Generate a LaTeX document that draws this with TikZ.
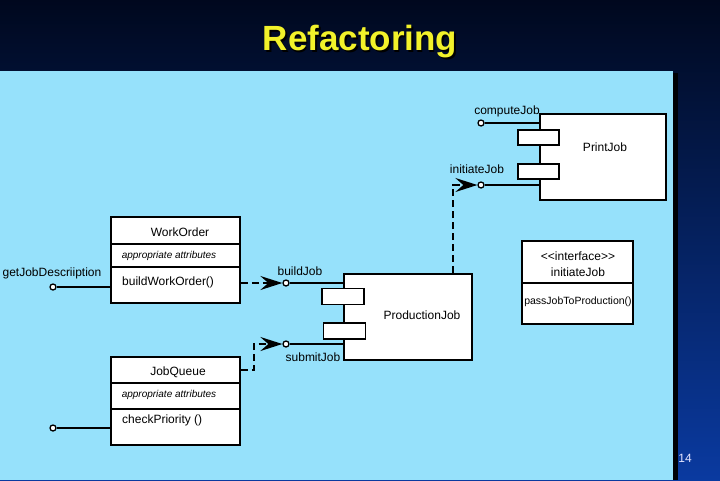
\documentclass[tikz,border=0pt]{standalone}
\usepackage{fontspec}
\setmainfont{Liberation Sans}
\usetikzlibrary{arrows.meta,calc}
\definecolor{navytop}{HTML}{00081E}
\definecolor{navybot}{HTML}{0A3AA0}
\definecolor{panel}{HTML}{96E1FB}
\definecolor{titley}{HTML}{F2F22A}
\begin{document}
\begin{tikzpicture}[x=1pt,y=-1pt,
  box/.style={draw=black,line width=1.6pt,fill=white,inner sep=0pt,rectangle},
  port/.style={draw=black,line width=1.4pt,fill=white,inner sep=0pt,rectangle},
  pin/.style={circle,draw=black,fill=white,line width=1.3pt,inner sep=0pt,minimum size=6pt},
  lbl/.style={inner sep=0pt,font=\fontsize{12}{14}\selectfont},
  attr/.style={inner sep=0pt,font=\fontsize{10}{11}\selectfont\itshape},
  wire/.style={line width=1.7pt},
  dashwire/.style={line width=2pt,dash pattern=on 7pt off 4pt,-{Stealth[length=22pt,width=14pt,inset=8pt]}}
]
\useasboundingbox (0,0) rectangle (720,480);
% background
\shade[top color=navytop,bottom color=navybot] (0,0) rectangle (720,480);
\fill[black!85!navytop] (673,73) rectangle (678,480);
\fill[panel] (0,71) rectangle (673,480);
% title
\node[font=\fontsize{35}{40}\selectfont\bfseries,text=black] at (361.5,43.5) {Refactoring};
\node (title)[font=\fontsize{35}{40}\selectfont\bfseries,text=titley] at (360,42) {Refactoring};
\node (pg)[font=\fontsize{12}{14}\selectfont,text=white!90!blue] at (685,458) {14};

% PrintJob
\node (pj)[box,minimum width=126pt,minimum height=86pt] at (603,157) {};
\node (pjs1)[port,minimum width=41pt,minimum height=15pt] at (538.5,137.5) {};
\node (pjs2)[port,minimum width=41pt,minimum height=15pt] at (538.5,171.5) {};
\node (pjl)[lbl] at (605,147) {PrintJob};
\node (cc)[pin] at (481,123) {};
\node (ccl)[lbl] at (507,111) {computeJob};
\node (ci)[pin] at (481,185) {};
\node (cil)[lbl] at (477,169) {initiateJob};
\draw[wire] (cc) -- (cc -| pj.west);
\draw[wire] (ci) -- (ci -| pj.west);

% ProductionJob
\node (prod)[box,minimum width=128pt,minimum height=86pt] at (408,317) {};
\node (ps1)[port,minimum width=42pt,minimum height=16pt] at (343,296.5) {};
\node (ps2)[port,minimum width=42pt,minimum height=16pt] at (344.5,331) {};
\node (prodl)[lbl] at (422,315) {ProductionJob};
\node (cb)[pin] at (286,283) {};
\node (cbl)[lbl] at (300,271) {buildJob};
\node (cs)[pin] at (286,344) {};
\node (csl)[lbl] at (313,357) {submitJob};
\draw[wire] (cb) -- (cb -| prod.west);
\draw[wire] (cs) -- (cs -| prod.west);

% WorkOrder
\node (wo)[box,minimum width=129pt,minimum height=86pt] at (175.5,260) {};
\draw[line width=2.2pt] (wo.west |- 0,244) -- (wo.east |- 0,244);
\draw[line width=1.2pt] (wo.west |- 0,267) -- (wo.east |- 0,267);
\node (wol)[lbl] at (180,232) {WorkOrder};
\node (woa)[attr] at (169,256) {appropriate attributes};
\node (wom)[lbl,anchor=west] at (122,282) {buildWorkOrder()};
\node (cg)[pin] at (53,287) {};
\node (cgl)[lbl] at (52,273) {getJobDescriiption};
\draw[wire] (cg) -- (cg -| wo.west);

% JobQueue
\node (jq)[box,minimum width=129pt,minimum height=88pt] at (175.5,401) {};
\draw[line width=1.6pt] (jq.west |- 0,383) -- (jq.east |- 0,383);
\draw[line width=1.2pt] (jq.west |- 0,409) -- (jq.east |- 0,409);
\node (jql)[lbl] at (178,372) {JobQueue};
\node (jqa)[attr] at (169,395) {appropriate attributes};
\node (jqm)[lbl,anchor=west] at (122,420) {checkPriority ()};
\node (cq)[pin] at (53,428) {};
\draw[wire] (cq) -- (cq -| jq.west);

% interface
\node (ib)[box,minimum width=111pt,minimum height=83pt] at (577.5,282.5) {};
\draw[line width=1.6pt] (ib.west |- 0,283) -- (ib.east |- 0,283);
\node (ibs)[lbl] at (578,256) {<\kern0pt<interface>\kern0pt>};
\node (ibn)[lbl] at (578,272) {initiateJob};
\node (ibm)[inner sep=0pt,font=\fontsize{10.5}{12}\selectfont] at (578,302) {passJobToProduction()};

% dashed dependencies
\draw[dashwire] ($(prod.north east)+(-20,0)$) |- (ci.west);
\draw[dashwire] (wo.east |- cb) -- (cb.west);
\draw[dashwire] ($(jq.north east)+(0,14)$) -- ++(13,0) |- (cs.west);
\end{tikzpicture}
\end{document}
